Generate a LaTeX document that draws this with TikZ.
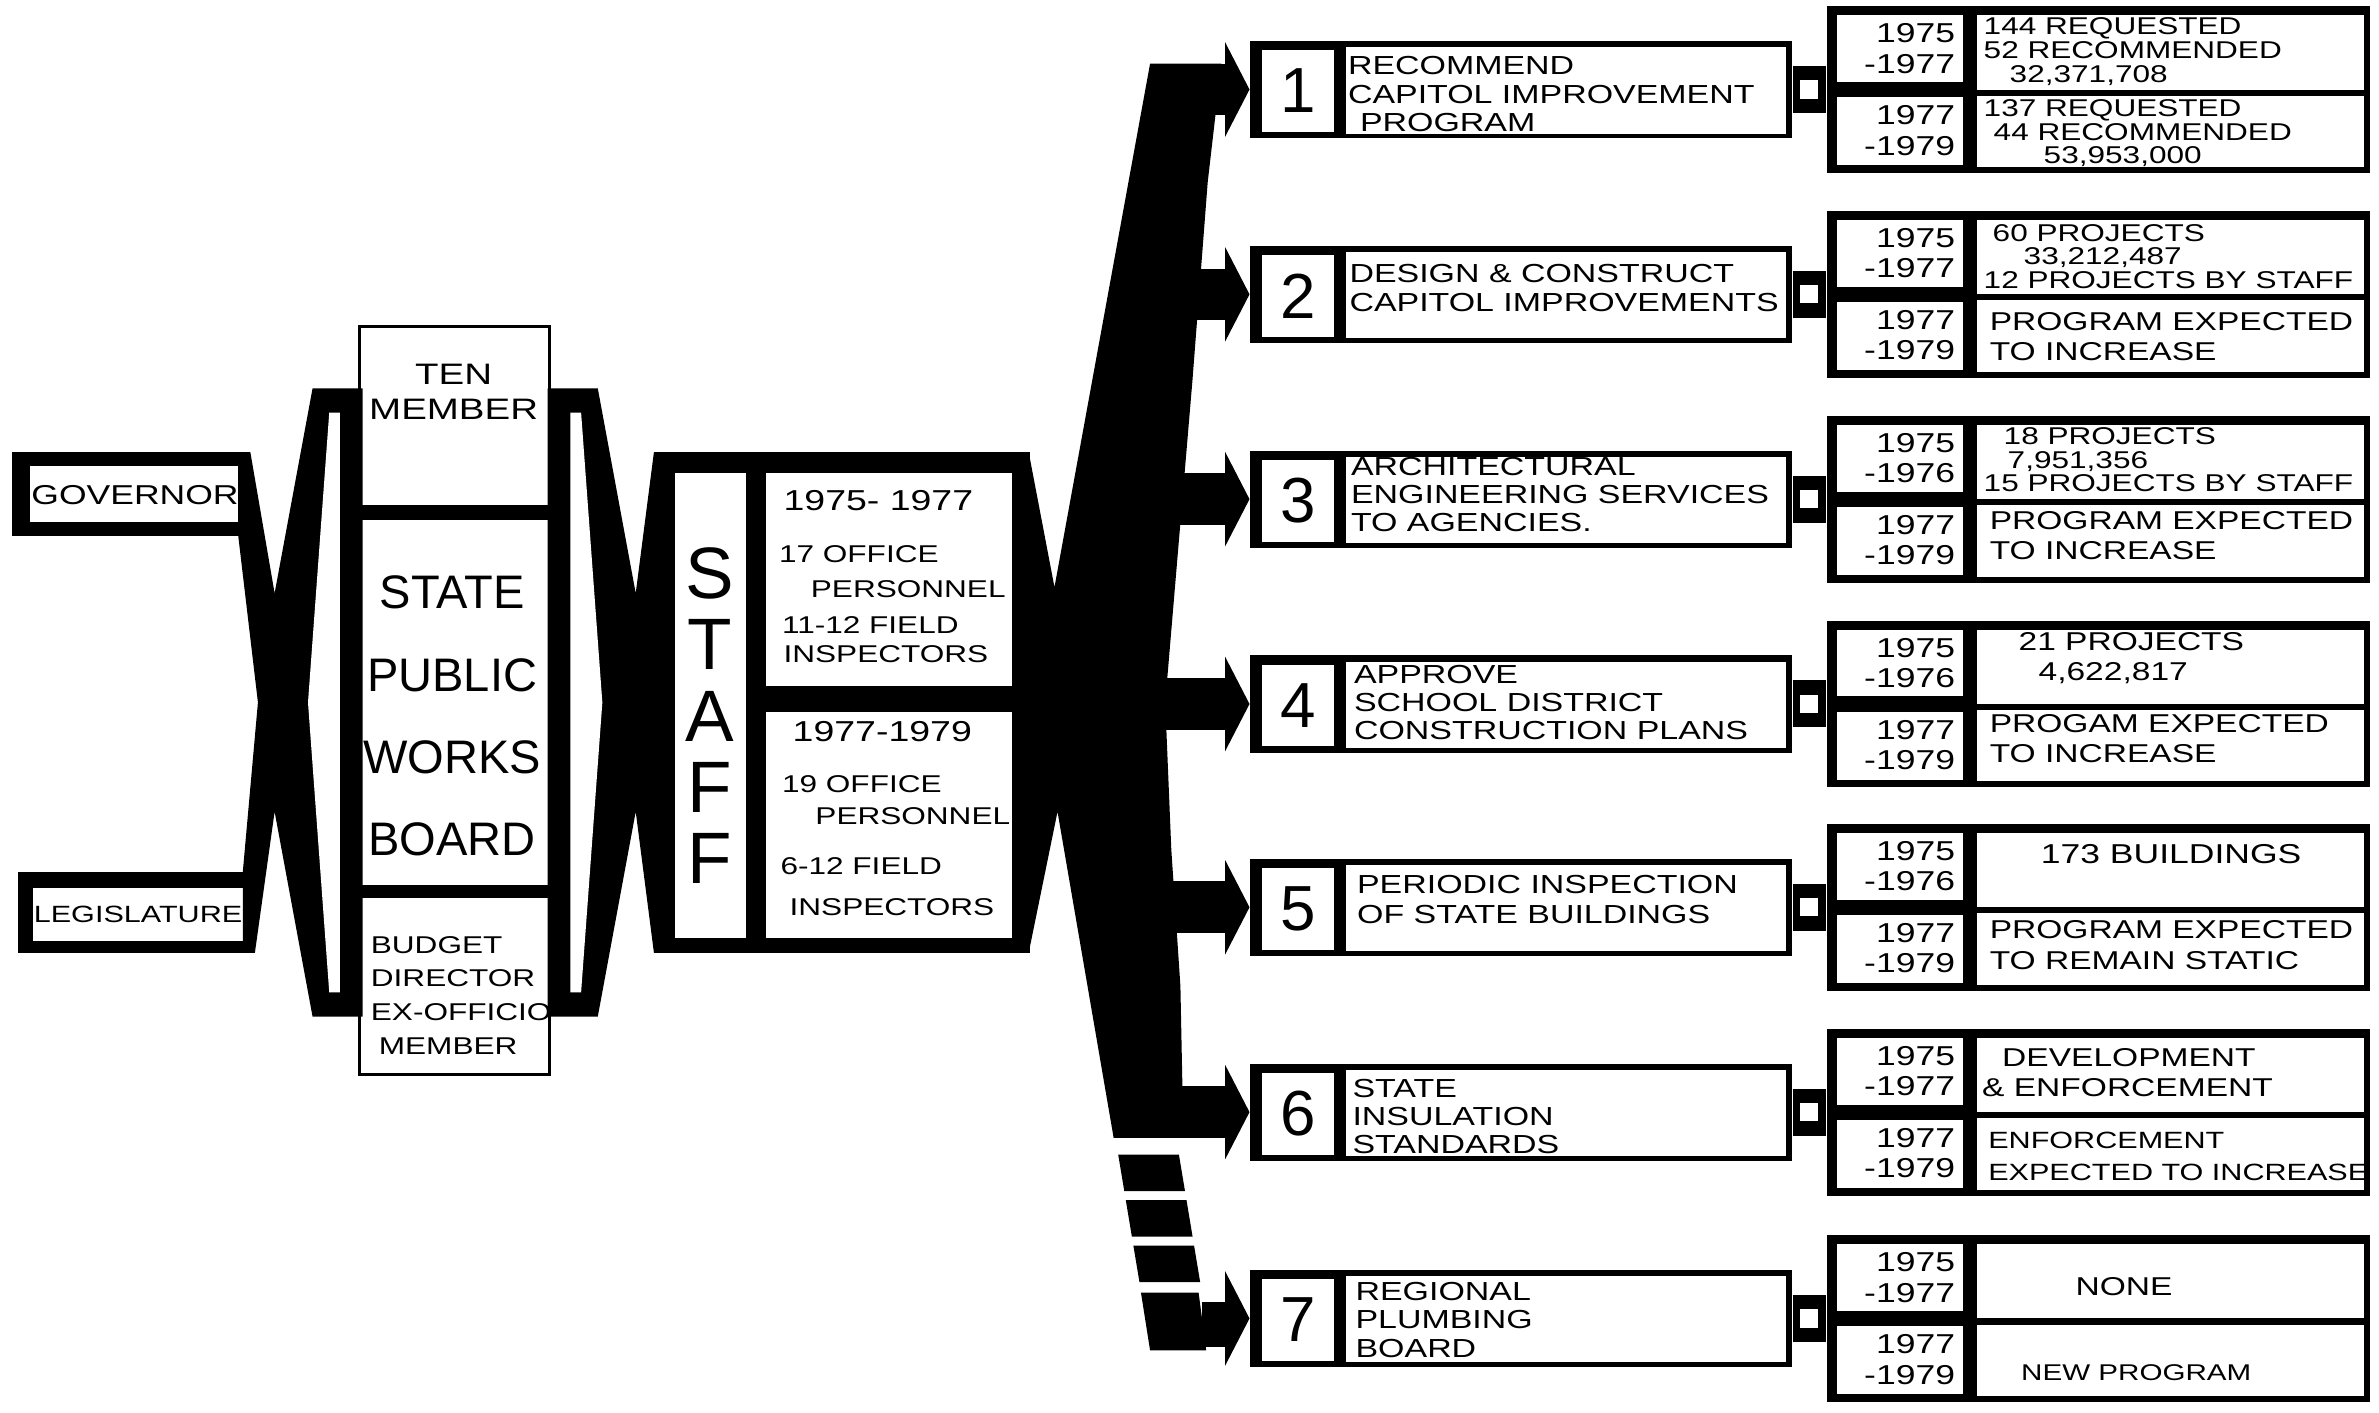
\documentclass[tikz,border=0pt]{standalone}
\usepackage{fontspec}
\setmainfont{Liberation Sans}
\newfontfamily\wide{Liberation Sans}[FakeStretch=1.3]
\usetikzlibrary{positioning}
% font size given in picture pixels
\newcommand\pxf[2]{\fontsize{\fpeval{#1*0.4317}pt}{\fpeval{#2*0.4317}pt}\selectfont}
\tikzset{
  lbl/.style={inner sep=0pt, align=center},
  lblw/.style={inner sep=0pt, align=left, anchor=west},
  boxtxt/.style={lblw, font=\wide\pxf{17.2}{18.5}},
  yeartxt/.style={inner sep=0pt, align=right, anchor=east, font=\wide\pxf{18}{20}},
  valtxt/.style={lblw, font=\wide\pxf{16}{15.5}},
  valtxtb/.style={lblw, font=\wide\pxf{17}{20}},
  numtxt/.style={inner sep=0pt, font=\pxf{42}{42}},
  progbox/.style={fill=black, inner sep=0pt, minimum width=54.16mm, minimum height=9.71mm},
  restab/.style={fill=black, inner sep=0pt, minimum width=54.32mm, minimum height=16.69mm},
  shaft/.style={line width=5.16mm},
  link/.style={line width=4.70mm},
  hole/.style={fill=white, inner sep=0pt, minimum size=1.82mm},
}
\begin{document}
\begin{tikzpicture}[x=0.15172mm, y=-0.15172mm]
\fill[white] (0,0) rectangle (1568,931);
\useasboundingbox (0,0) rectangle (1568,931);

% governor and legislature
\fill (8,298) rectangle (165,353);
\fill[white] (20,307) rectangle (157,344);
\node[lbl, font=\wide\pxf{18}{18}] (gov) at (89,326) {GOVERNOR};
\fill (12,575) rectangle (168,628);
\fill[white] (22,585) rectangle (160,620);
\node[lbl, font=\wide\pxf{15.5}{15.5}] (leg) at (91,603) {LEGISLATURE};

% crossing into the board
\fill (157,298) -- (165,298) -- (181,391) -- (206,256) -- (239,256) -- (239,670) -- (206,670)
  -- (181,535) -- (168,628) -- (160,628) -- (160,575) -- (170,463) -- (157,353) -- cycle;
\fill[white] (217,272) -- (224,272) -- (224,654) -- (217,654) -- (203,463) -- cycle;

% board
\draw[line width=0.3mm] (237,215) rectangle (362,708);
\fill (237,333) rectangle (362,343);
\fill (237,583) rectangle (362,592);
\node[lbl, font=\wide\pxf{19.5}{23}] (ten) at (299,258) {TEN\\MEMBER};
\node[lbl, font=\pxf{31}{54.3}] (spwb) at (298,472) {STATE\\PUBLIC\\WORKS\\BOARD};
\node[lblw, font=\wide\pxf{16}{22.3}] (budget) at (244,656) {BUDGET\\DIRECTOR\\EX-OFFICIO\\\hspace*{0.8mm}MEMBER};

% crossing into the staff
\fill (443,298) -- (431,298) -- (419,391) -- (394,256) -- (361,256) -- (361,670) -- (394,670)
  -- (419,535) -- (431,628) -- (443,628) -- cycle;
\fill[white] (383,272) -- (376,272) -- (376,654) -- (383,654) -- (397,463) -- cycle;

% staff
\fill (431,298) rectangle (679,628);
\fill[white] (445,312) rectangle (492,618);
\fill[white] (505,312) rectangle (667,452);
\fill[white] (505,469) rectangle (667,618);
\foreach \ch [count=\k from 0] in {S,T,A,F,F}
  \node[lbl, font=\pxf{48}{48}] (staff\k) at (468,378+47*\k) {\ch};
\node[lblw, font=\wide\pxf{19}{19}] (sa1) at (516,330) {1975- 1977};
\node[lblw, font=\wide\pxf{16}{16}] (sa2) at (513,365) {17 OFFICE};
\node[lblw, font=\wide\pxf{16}{16}] (sa3) at (534,388) {PERSONNEL};
\node[lblw, font=\wide\pxf{16}{16}] (sa4) at (515,412) {11-12 FIELD};
\node[lblw, font=\wide\pxf{16}{16}] (sa5) at (516,431) {INSPECTORS};
\node[lblw, font=\wide\pxf{19}{19}] (sb1) at (522,482) {1977-1979};
\node[lblw, font=\wide\pxf{16}{16}] (sb2) at (515,517) {19 OFFICE};
\node[lblw, font=\wide\pxf{16}{16}] (sb3) at (537,538) {PERSONNEL};
\node[lblw, font=\wide\pxf{16}{16}] (sb4) at (514,571) {6-12 FIELD};
\node[lblw, font=\wide\pxf{16}{16}] (sb5) at (520,598) {INSPECTORS};

% staff to trunk
\fill (670,298) -- (678,298) -- (695,387) -- (758,42) -- (805,42) -- (796,120) -- (786,250)
  -- (775,380) -- (768,463) -- (772,560) -- (778,650) -- (780,750) -- (734,750)
  -- (697,535) -- (678,628) -- (670,628) -- cycle;
\foreach \y/\dx in {761/0, 791/5, 821/10}
  \fill (737+\dx,\y) -- (777+\dx,\y) -- (781+\dx,\y+24) -- (741+\dx,\y+24) -- cycle;
\fill (752,852) -- (790,852) -- (795,890) -- (758,890) -- cycle;

% programme boxes and result tables
\foreach \i/\yc/\ye in {1/59/1977, 2/194/1977, 3/329/1976, 4/464/1976, 5/598/1976, 6/733/1977, 7/869/1977}{
  \node[progbox] (box\i) at (1002.5,\yc) {};
  \fill[white] (832,\yc-26) rectangle (879,\yc+28);
  \fill[white] (887,\yc-28) rectangle (1177,\yc+29);
  \node[numtxt] (num\i) at (855.5,\yc+1) {\i};
  \node[restab] (tab\i) at (1383,\yc) {};
  \fill[white] (1211,\yc-49) rectangle (1294,\yc-5);
  \fill[white] (1211,\yc+5) rectangle (1294,\yc+50);
  \fill[white] (1303,\yc-49) rectangle (1558,\yc);
  \fill[white] (1303,\yc+4) rectangle (1558,\yc+51);
  \node[yeartxt] (ya\i) at (1289,\yc-27) {1975\\-\ye};
  \node[yeartxt] (yb\i) at (1289,\yc+27) {1977\\-1979};
  \draw[link] (box\i.east) -- (tab\i.west) node[midway, hole] {};
}

% arrows from the trunk
\foreach \i/\yc/\tx in {1/59/785, 2/194/755, 3/329/755, 4/464/755, 5/598/755, 6/733/755}{
  \coordinate (t\i) at (\tx,\yc);
  \coordinate (h\i) at (812,\yc);
  \draw[shaft] (t\i) -- (h\i);
  \fill (box\i.west) -- ++(-16,-31) -- ++(0,62) -- cycle;
}
\coordinate (t7) at (792,873);
\coordinate (h7) at (812,873);
\draw[line width=4.55mm] (t7) -- (h7);
\fill (box7.west) -- ++(-16,-31) -- ++(0,62) -- cycle;

% box texts
\node[boxtxt] (d1) at (888,62) {RECOMMEND\\CAPITOL IMPROVEMENT\\\hspace*{1.2mm}PROGRAM};
\node[boxtxt, font=\wide\pxf{17.2}{19}] (d2) at (889,190) {DESIGN \& CONSTRUCT\\CAPITOL IMPROVEMENTS};
\node[boxtxt] (d3) at (890,326) {ARCHITECTURAL\\ENGINEERING SERVICES\\TO AGENCIES.};
\node[boxtxt] (d4) at (892,463) {APPROVE\\SCHOOL DISTRICT\\CONSTRUCTION PLANS};
\node[boxtxt, font=\wide\pxf{17.2}{20}] (d5) at (894,593) {PERIODIC INSPECTION\\OF STATE BUILDINGS};
\node[boxtxt] (d6) at (891,736) {STATE\\INSULATION\\STANDARDS};
\node[boxtxt] (d7) at (893,870) {REGIONAL\\PLUMBING\\BOARD};

% table texts
\node[valtxt] (v1a) at (1307,34) {144 REQUESTED\\52 RECOMMENDED\\\hspace*{2.6mm}32,371,708};
\node[valtxt] (v1b) at (1307,88) {137 REQUESTED\\\hspace*{1mm}44 RECOMMENDED\\\hspace*{6mm}53,953,000};
\node[valtxt] (v2a) at (1307,169) {\hspace*{0.9mm}60 PROJECTS\\\hspace*{4mm}33,212,487\\12 PROJECTS BY STAFF};
\node[valtxtb] (v2b) at (1311,222) {PROGRAM EXPECTED\\TO INCREASE};
\node[valtxt] (v3a) at (1307,303) {\hspace*{2mm}18 PROJECTS\\\hspace*{2.4mm}7,951,356\\15 PROJECTS BY STAFF};
\node[valtxtb] (v3b) at (1311,353) {PROGRAM EXPECTED\\TO INCREASE};
\node[valtxtb] (v4a) at (1330,434) {21 PROJECTS\\\hspace*{2mm}4,622,817};
\node[valtxtb] (v4b) at (1311,487) {PROGAM EXPECTED\\TO INCREASE};
\node[lbl, font=\wide\pxf{18}{18}] (v5a) at (1431,563) {173 BUILDINGS};
\node[valtxtb] (v5b) at (1311,623) {PROGRAM EXPECTED\\TO REMAIN STATIC};
\node[valtxtb] (v6a) at (1306,707) {\hspace*{2mm}DEVELOPMENT\\\& ENFORCEMENT};
\node[valtxtb, font=\wide\pxf{15.5}{21}] (v6b) at (1310,762) {ENFORCEMENT\\EXPECTED TO INCREASE};
\node[lbl, font=\wide\pxf{17}{17}] (v7a) at (1400,848) {NONE};
\node[lbl, font=\wide\pxf{15}{15}] (v7b) at (1408,905) {NEW PROGRAM};
\end{tikzpicture}
\end{document}
